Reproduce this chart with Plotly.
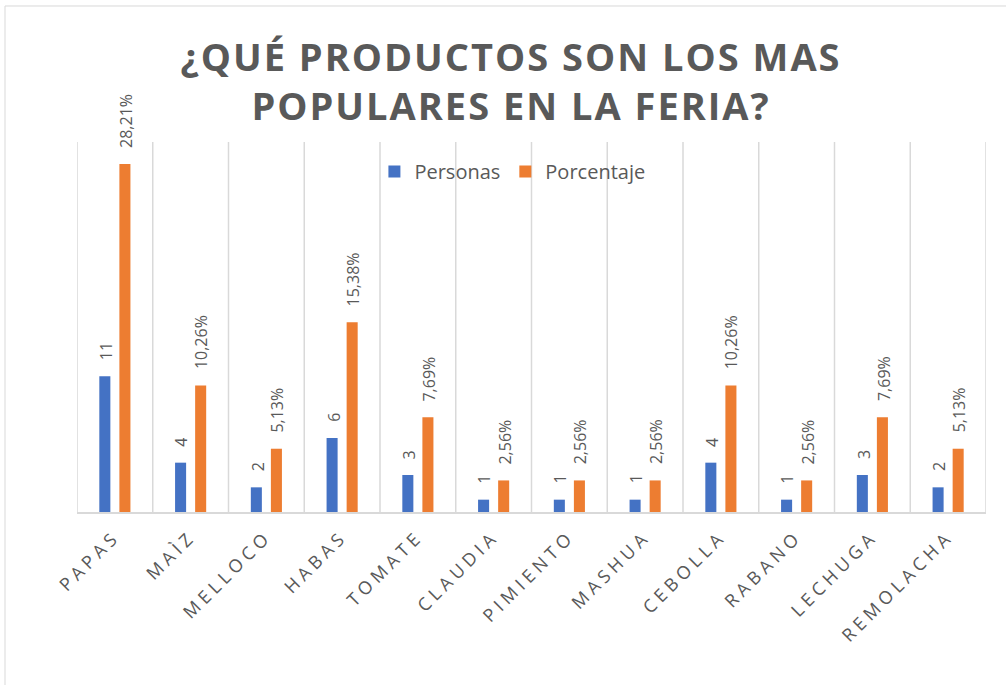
import plotly.graph_objects as go

# categories and values
productos = ["PAPAS", "MAÌZ", "MELLOCO", "HABAS", "TOMATE", "CLAUDIA",
             "PIMIENTO", "MASHUA", "CEBOLLA", "RABANO", "LECHUGA", "REMOLACHA"]
personas = [11, 4, 2, 6, 3, 1, 1, 1, 4, 1, 3, 2]
porcentaje = [28.21, 10.26, 5.13, 15.38, 7.69, 2.56, 2.56, 2.56, 10.26, 2.56, 7.69, 5.13]

gris = "#595959"
fuente = "Open Sans"


def espaciado(texto, px):
    return f'<span style="letter-spacing:{px}px">{texto}</span>'


fig = go.Figure()
fig.add_trace(go.Bar(
    x=productos, y=personas, name="Personas",
    marker=dict(color="#4472C4", line=dict(width=0)),
))
fig.add_trace(go.Bar(
    x=productos, y=porcentaje, name="Porcentaje",
    marker=dict(color="#ED7D31", line=dict(width=0)),
))

# data labels, rotated, above each bar
anotaciones = []
for i, cat in enumerate(productos):
    anotaciones.append(dict(
        x=cat, y=personas[i], xref="x", yref="y", text=str(personas[i]),
        textangle=-90, xanchor="center", yanchor="bottom",
        xshift=-9, yshift=14, showarrow=False,
        font=dict(family=fuente, size=16, color=gris)))
    anotaciones.append(dict(
        x=cat, y=porcentaje[i], xref="x", yref="y",
        text=f"{porcentaje[i]:.2f}%".replace(".", ","),
        textangle=-90, xanchor="center", yanchor="bottom",
        xshift=11, yshift=14, showarrow=False,
        font=dict(family=fuente, size=16, color=gris)))

# vertical separators between categories
shapes = []
for i in range(len(productos) + 1):
    shapes.append(dict(type="line", xref="x", yref="y",
                       x0=i - 0.5, x1=i - 0.5, y0=0, y1=30,
                       line=dict(color="#d9d9d9", width=1.5), layer="below"))
# outer chart border
shapes.append(dict(type="rect", xref="paper", yref="paper",
                   x0=-0.0792, x1=1.2, y0=-0.6, y1=1.3676,
                   line=dict(color="#d9d9d9", width=1)))

fig.update_layout(
    width=1006, height=685,
    paper_bgcolor="white", plot_bgcolor="white",
    margin=dict(l=77, r=20, t=142, b=173, autoexpand=False),
    barmode="group", bargap=0.47, bargroupgap=0.45,
    title=dict(
        text=espaciado("¿QUÉ PRODUCTOS SON LOS MAS", 2) + "<br>"
        + espaciado("POPULARES EN LA FERIA?", 2),
        font=dict(family=fuente, size=38, color=gris, weight="bold"),
        x=0.508, xanchor="center", y=1 - 70.5 / 685, yanchor="middle",
        yref="container",
    ),
    legend=dict(
        orientation="h", x=0.479, xanchor="center", y=0.92, yanchor="middle",
        font=dict(family=fuente, size=20, color=gris),
        bgcolor="rgba(0,0,0,0)", itemwidth=30,
    ),
    shapes=shapes,
    annotations=anotaciones,
    showlegend=True,
)
fig.update_xaxes(
    type="category", showgrid=False, showline=True, automargin=False,
    linecolor="#d9d9d9", linewidth=2, ticks="",
    tickmode="array", tickvals=productos,
    ticktext=[espaciado(p, 4.5) for p in productos],
    tickangle=-45, tickfont=dict(family=fuente, size=18, color=gris),
    ticklabelstandoff=5,
    range=[-0.5, len(productos) - 0.5],
)
fig.update_yaxes(
    range=[0, 30], showgrid=False, showticklabels=False, automargin=False,
    zeroline=False, showline=False, ticks="",
)

fig.write_html("out.html", config={"displayModeBar": False},
               post_script="document.body.style.margin='0';")
